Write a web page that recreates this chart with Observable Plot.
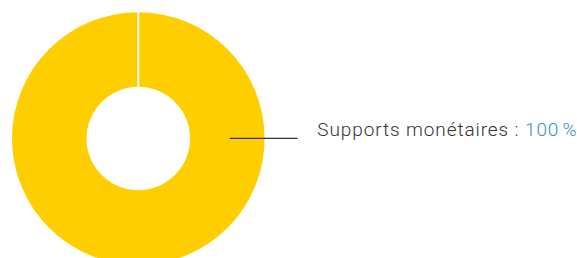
<!DOCTYPE html>
<html><head><meta charset="utf-8">
<script src="https://cdn.jsdelivr.net/npm/d3@7"></script>
<script src="https://cdn.jsdelivr.net/npm/@observablehq/plot@0.6"></script>
<style>body{margin:0;background:#fff;overflow:hidden}</style>
</head><body><div id="chart"></div>
<script>
const categories = ["Supports monétaires"];
const values = [100];
const valueLabels = ["100\u202F%"];
const colors = ["#FFCE00"];

const data = categories.map((c, i) => ({category: c, value: values[i], label: valueLabels[i], color: colors[i]}));
const arcs = d3.pie().sort(null).value(d => d.value)(data);

const R_OUT = 1, R_IN = 0.41;
const FONT = "Roboto, 'Liberation Sans', sans-serif";

function donutMark(index, scales) {
  const cx = scales.x(0), cy = scales.y(0);
  const ro = scales.x(R_OUT) - cx, ri = scales.x(R_IN) - cx;
  const g = d3.create("svg:g");
  const arcGen = d3.arc().innerRadius(ri).outerRadius(ro);
  g.selectAll("path").data(arcs).join("path")
    .attr("transform", `translate(${cx},${cy})`)
    .attr("d", arcGen)
    .attr("fill", d => d.data.color);
  g.selectAll("line").data(arcs).join("line")
    .attr("x1", d => cx + ri * Math.sin(d.startAngle))
    .attr("y1", d => cy - ri * Math.cos(d.startAngle))
    .attr("x2", d => cx + (ro + 1) * Math.sin(d.startAngle))
    .attr("y2", d => cy - (ro + 1) * Math.cos(d.startAngle))
    .attr("stroke", "#fff").attr("stroke-width", 2);
  return g.node();
}

const labelData = data.map(d => ({...d, x1: (R_OUT + R_IN) / 2 + 0.015, x2: 1.257, xt: 1.413, y: 0.005}));

const plot = Plot.plot({
  width: 577, height: 258, margin: 0,
  x: {domain: [-1, 1], range: [12, 264.6], axis: null},
  y: {domain: [-1, 1], range: [264.8, 12.2], axis: null},
  style: {background: "#fff", fontFamily: FONT},
  marks: [
    donutMark,
    Plot.link(labelData, {x1: "x1", x2: "x2", y1: "y", y2: "y", stroke: "#333", strokeWidth: 1.3}),
    Plot.text(labelData, {x: "xt", y: "y", text: d => d.category + " : ", textAnchor: "start", fontSize: 19, fontWeight: 300, fill: "#333", fontFamily: FONT, dy: -8})
  ]
});
d3.select(plot).selectAll("text").each(function() {
  const t = d3.select(this);
  if (t.text().startsWith(categories[0])) {
    t.attr("xml:space", "preserve").style("letter-spacing", "0.9px");
    t.append("tspan").attr("fill", "#3d8ec4").text(valueLabels[0]);
  }
});
document.getElementById("chart").appendChild(plot);
</script>
</body></html>
